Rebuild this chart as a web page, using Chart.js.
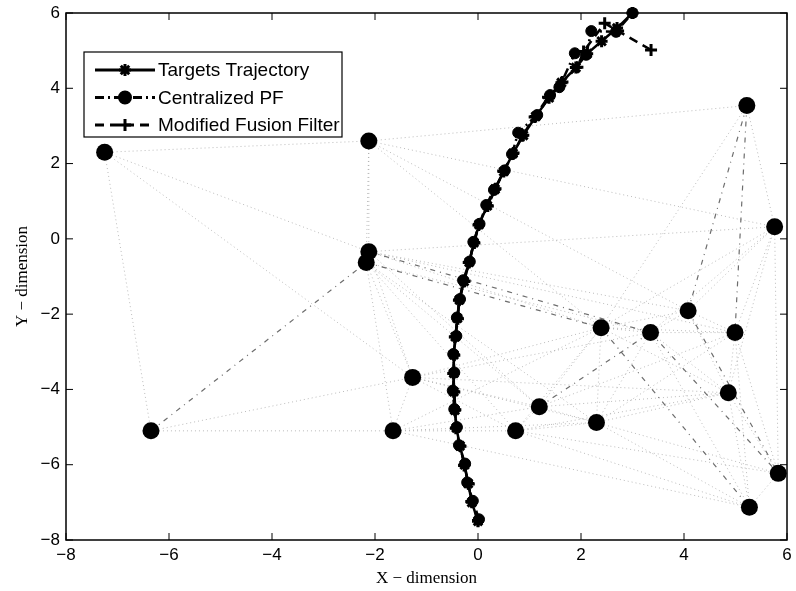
<!DOCTYPE html>
<html>
<head>
<meta charset="utf-8">
<script src="https://cdn.jsdelivr.net/npm/chart.js@4/dist/chart.umd.min.js"></script>
<style>
  html, body { margin: 0; padding: 0; background: #fff; }
  #wrap { width: 796px; height: 591px; }
</style>
</head>
<body>
<div id="wrap"><canvas id="myChart" width="796" height="591"></canvas></div>
<script>
// axis ticks
const xTicks = [-8, -6, -4, -2, 0, 2, 4, 6];
const yTicks = [-8, -6, -4, -2, 0, 2, 4, 6];

// target trajectory
const trajX = [0.00, -0.12, -0.19, -0.26, -0.35, -0.42, -0.45, -0.47, -0.47, -0.47, -0.44, -0.40, -0.36, -0.27, -0.17, -0.08, 0.02, 0.18, 0.33, 0.50, 0.68, 0.88, 1.12, 1.38, 1.62, 1.90, 2.12, 2.40, 2.70, 3.00];
const trajY = [-7.50, -7.00, -6.50, -6.00, -5.50, -5.02, -4.55, -4.06, -3.57, -3.08, -2.60, -2.11, -1.62, -1.13, -0.62, -0.10, 0.38, 0.88, 1.32, 1.79, 2.27, 2.75, 3.25, 3.75, 4.15, 4.55, 4.92, 5.25, 5.60, 6.00];

// centralized PF estimate
const pfX = [0.02, -0.10, -0.21, -0.25, -0.37, -0.41, -0.46, -0.49, -0.46, -0.48, -0.42, -0.41, -0.35, -0.29, -0.16, -0.09, 0.03, 0.16, 0.31, 0.52, 0.66, 0.78, 1.15, 1.40, 1.58, 1.88, 2.10, 2.20, 2.68, 3.00];
const pfY = [-7.45, -6.96, -6.47, -5.97, -5.48, -5.00, -4.52, -4.03, -3.55, -3.06, -2.58, -2.09, -1.60, -1.10, -0.60, -0.08, 0.40, 0.90, 1.30, 1.82, 2.25, 2.82, 3.29, 3.82, 4.03, 4.93, 4.89, 5.52, 5.50, 6.00];

// modified fusion filter estimate
const mffX = [0.00, -0.13, -0.18, -0.27, -0.34, -0.43, -0.44, -0.46, -0.48, -0.46, -0.45, -0.39, -0.37, -0.26, -0.18, -0.07, 0.01, 0.19, 0.34, 0.49, 0.69, 0.86, 1.10, 1.36, 1.64, 1.93, 2.05, 2.46, 2.72, 3.36];
const mffY = [-7.48, -6.98, -6.51, -6.02, -5.51, -5.03, -4.54, -4.07, -3.58, -3.09, -2.61, -2.12, -1.63, -1.12, -0.63, -0.11, 0.37, 0.87, 1.33, 1.80, 2.28, 2.74, 3.24, 3.76, 4.17, 4.56, 4.98, 5.73, 5.52, 5.02];

// sensor nodes
const sensorX = [-7.25, -6.35, -2.12, -2.12, -2.17, -1.27, -1.65, 0.73, 1.19, 2.30, 2.39, 3.35, 4.08, 4.99, 4.86, 5.22, 5.76, 5.83, 5.27];
const sensorY = [2.30, -5.10, 2.60, -0.34, -0.63, -3.68, -5.10, -5.10, -4.46, -4.88, -2.36, -2.49, -1.91, -2.49, -4.09, 3.54, 0.32, -6.23, -7.13];

// sensor links (index pairs)
const faintLinks = [
  [0, 1], [0, 2], [0, 3], [0, 5], [1, 6], [1, 5], [2, 3], [2, 4], [2, 10], [2, 12], [2, 16], [2, 15],
  [3, 4], [3, 5], [3, 10], [3, 12], [3, 16], [3, 13], [3, 8], [4, 5], [4, 6], [4, 7], [4, 8], [4, 9],
  [5, 6], [5, 7], [5, 8], [5, 10], [5, 9], [6, 7], [6, 8], [6, 9], [6, 18], [7, 8], [7, 9], [7, 10],
  [7, 18], [7, 17], [7, 14], [8, 9], [8, 10], [8, 14], [9, 10], [9, 11], [9, 14], [9, 18], [9, 17],
  [10, 11], [10, 12], [10, 13], [10, 14], [10, 16], [10, 15], [11, 12], [11, 13], [11, 14], [11, 16],
  [11, 18], [12, 13], [12, 14], [12, 16], [13, 14], [13, 16], [13, 17], [13, 18], [14, 17], [14, 18],
  [14, 16], [15, 16], [16, 17], [17, 18], [5, 11], [6, 10], [8, 13], [9, 13], [5, 14], [4, 11]
];
const darkLinks = [[1, 4], [15, 13], [12, 17], [3, 11], [8, 11], [12, 15], [4, 10], [10, 18], [11, 17]];

const seriesNames = ['Targets Trajectory', 'Centralized PF', 'Modified Fusion Filter'];

function toPoints(xs, ys) {
  return xs.map((x, i) => ({ x: x, y: ys[i] }));
}

function linkPoints(links) {
  const pts = [];
  links.forEach(([a, b]) => {
    pts.push({ x: sensorX[a], y: sensorY[a] });
    pts.push({ x: sensorX[b], y: sensorY[b] });
    pts.push({ x: sensorX[b], y: NaN });
  });
  return pts;
}

// box around plot with inward ticks, MATLAB style
const frameBox = {
  id: 'frameBox',
  afterDraw(chart) {
    const { ctx, chartArea: a, scales } = chart;
    ctx.save();
    ctx.strokeStyle = '#000';
    ctx.lineWidth = 1.5;
    ctx.strokeRect(a.left, a.top, a.right - a.left, a.bottom - a.top);
    ctx.lineWidth = 1;
    ctx.beginPath();
    xTicks.forEach(v => {
      const px = scales.x.getPixelForValue(v);
      ctx.moveTo(px, a.bottom); ctx.lineTo(px, a.bottom - 7);
      ctx.moveTo(px, a.top); ctx.lineTo(px, a.top + 7);
    });
    yTicks.forEach(v => {
      const py = scales.y.getPixelForValue(v);
      ctx.moveTo(a.left, py); ctx.lineTo(a.left + 7, py);
      ctx.moveTo(a.right, py); ctx.lineTo(a.right - 7, py);
    });
    ctx.stroke();
    ctx.restore();
  }
};

// legend box in the upper left
const legendBox = {
  id: 'legendBox',
  afterDraw(chart) {
    const ctx = chart.ctx;
    const a = chart.chartArea;
    const bx = a.left + 18, by = a.top + 39, bw = 258, bh = 85;
    ctx.save();
    ctx.fillStyle = '#fff';
    ctx.fillRect(bx, by, bw, bh);
    ctx.strokeStyle = '#000';
    ctx.lineWidth = 1.2;
    ctx.strokeRect(bx, by, bw, bh);
    const entries = chart.data.datasets.filter(d => d.inLegend);
    entries.forEach((ds, i) => {
      const cy = by + 18 + i * 27.5;
      ctx.strokeStyle = '#000';
      ctx.lineWidth = 3;
      ctx.setLineDash(ds.borderDash || []);
      ctx.beginPath();
      ctx.moveTo(bx + 11, cy);
      ctx.lineTo(bx + 71, cy);
      ctx.stroke();
      ctx.setLineDash([]);
      ctx.fillStyle = '#000';
      Chart.helpers.drawPoint(ctx, {
        pointStyle: ds.pointStyle,
        radius: ds.pointRadius,
        borderWidth: ds.pointBorderWidth,
        rotation: 0
      }, bx + 41, cy);
      ctx.fillStyle = '#000';
      ctx.font = '19px "Liberation Sans", Arial, sans-serif';
      ctx.textBaseline = 'middle';
      ctx.fillText(ds.label, bx + 74, cy + 1);
    });
    ctx.restore();
  }
};

const ctx = document.getElementById('myChart');

new Chart(ctx, {
  type: 'line',
  data: {
    datasets: [
      {
        label: seriesNames[0],
        inLegend: true,
        data: toPoints(trajX, trajY),
        borderColor: '#000',
        backgroundColor: '#000',
        borderWidth: 2.5,
        pointStyle: 'star',
        pointRadius: 6,
        pointBorderWidth: 3,
        clip: false,
        order: 1
      },
      {
        label: seriesNames[1],
        inLegend: true,
        data: toPoints(pfX, pfY),
        borderColor: '#000',
        backgroundColor: '#000',
        borderWidth: 2.5,
        borderDash: [9, 4, 2, 4],
        pointStyle: 'circle',
        pointRadius: 5.5,
        pointBorderWidth: 1,
        clip: false,
        order: 2
      },
      {
        label: seriesNames[2],
        inLegend: true,
        data: toPoints(mffX, mffY),
        borderColor: '#000',
        backgroundColor: '#000',
        borderWidth: 2.5,
        borderDash: [9, 6],
        pointStyle: 'cross',
        pointRadius: 6,
        pointBorderWidth: 3,
        clip: false,
        order: 3
      },
      {
        label: 'Sensors',
        data: toPoints(sensorX, sensorY),
        showLine: false,
        borderColor: '#000',
        backgroundColor: '#000',
        pointStyle: 'circle',
        pointRadius: 8.5,
        pointBorderWidth: 0,
        clip: false,
        order: 4
      },
      {
        label: 'Links dark',
        data: linkPoints(darkLinks),
        borderColor: 'rgba(60,60,60,0.75)',
        borderWidth: 1.2,
        borderDash: [5, 5, 1, 5],
        pointRadius: 0,
        spanGaps: false,
        order: 5
      },
      {
        label: 'Links',
        data: linkPoints(faintLinks),
        borderColor: 'rgba(160,160,160,0.7)',
        borderWidth: 1,
        borderDash: [1, 3],
        pointRadius: 0,
        spanGaps: false,
        order: 6
      }
    ]
  },
  options: {
    responsive: false,
    animation: false,
    devicePixelRatio: 1,
    layout: { padding: { top: 13, right: 6, left: 0, bottom: 0 } },
    plugins: {
      legend: { display: false },
      tooltip: { enabled: false }
    },
    elements: { line: { tension: 0 } },
    scales: {
      x: {
        type: 'linear',
        min: -8,
        max: 6,
        afterBuildTicks: s => { s.ticks = xTicks.map(v => ({ value: v })); },
        afterFit: s => { s.height = 51; s.paddingLeft = 0; s.paddingRight = 0; },
        grid: { display: false, drawTicks: false },
        border: { display: false },
        ticks: {
          color: '#000',
          padding: 5,
          font: { family: '"Liberation Sans", Arial, sans-serif', size: 17 },
          callback: v => String(v).replace('-', '\u2212')
        },
        title: {
          display: true,
          text: 'X \u2212 dimension',
          color: '#000',
          padding: { top: 0, bottom: 2 },
          font: { family: '"Liberation Serif", "Times New Roman", serif', size: 17 }
        }
      },
      y: {
        type: 'linear',
        min: -8,
        max: 6,
        afterBuildTicks: s => { s.ticks = yTicks.map(v => ({ value: v })); },
        afterFit: s => { s.width = 66; s.paddingTop = 0; s.paddingBottom = 0; },
        grid: { display: false, drawTicks: false },
        border: { display: false },
        ticks: {
          color: '#000',
          padding: 6,
          font: { family: '"Liberation Sans", Arial, sans-serif', size: 17 },
          callback: v => String(v).replace('-', '\u2212')
        },
        title: {
          display: true,
          text: 'Y \u2212 dimension',
          color: '#000',
          padding: { top: 12, bottom: 0 },
          font: { family: '"Liberation Serif", "Times New Roman", serif', size: 17 }
        }
      }
    }
  },
  plugins: [frameBox, legendBox]
});
</script>
</body>
</html>
